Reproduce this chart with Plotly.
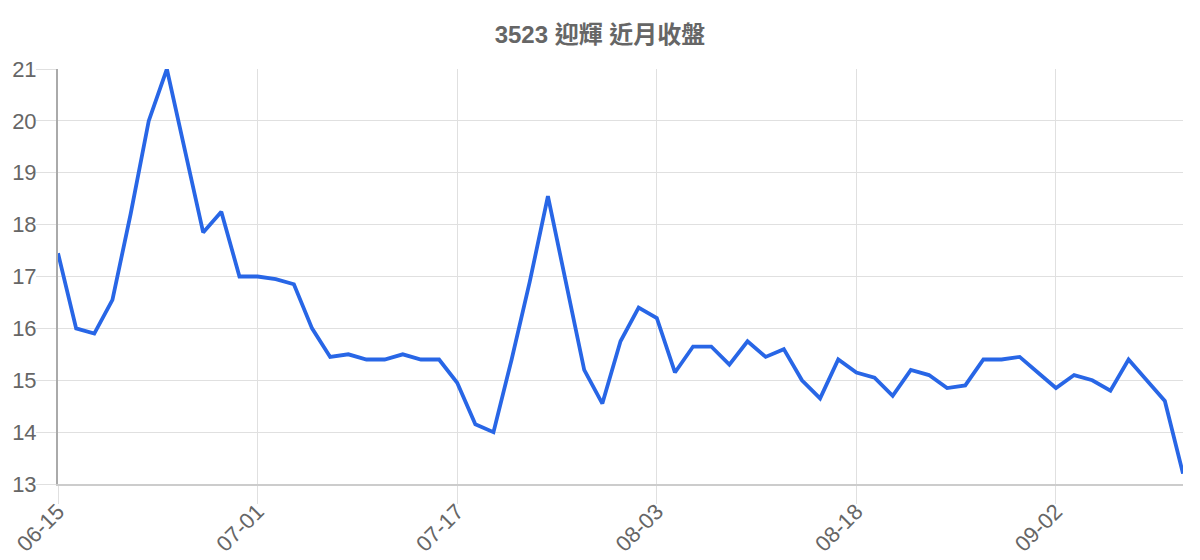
import plotly.graph_objects as go

dates = [
    "06-15", "06-16", "06-17", "06-18", "06-21", "06-22", "06-23", "06-24", "06-25", "06-28", "06-29", "07-01",
    "07-02", "07-05", "07-06", "07-07", "07-08", "07-09", "07-12", "07-13", "07-14", "07-15", "07-17",
    "07-18", "07-19", "07-20", "07-21", "07-24", "07-25", "07-26", "07-27", "07-28", "07-31", "08-03",
    "08-04", "08-05", "08-06", "08-07", "08-10", "08-11", "08-12", "08-13", "08-14", "08-17", "08-18",
    "08-19", "08-20", "08-21", "08-24", "08-25", "08-26", "08-27", "08-28", "08-31", "09-01", "09-02",
    "09-03", "09-04", "09-07", "09-08", "09-09", "09-10", "09-11",
]

closes = [
    17.45, 16.0, 15.9, 16.55, 18.2, 20.0, 21.0, 19.4, 17.85, 18.25, 17.0, 17.0,
    16.95, 16.85, 16.0, 15.45, 15.5, 15.4, 15.4, 15.5, 15.4, 15.4, 14.95,
    14.15, 14.0, 15.4, 16.9, 18.55, 16.85, 15.2, 14.55, 15.75, 16.4, 16.2,
    15.15, 15.65, 15.65, 15.3, 15.75, 15.45, 15.6, 15.0, 14.65, 15.4, 15.15,
    15.05, 14.7, 15.2, 15.1, 14.85, 14.9, 15.4, 15.4, 15.45, 15.15, 14.85,
    15.1, 15.0, 14.8, 15.4, 15.0, 14.6, 13.2,
]

tick_labels = ["06-15", "07-01", "07-17", "08-03", "08-18", "09-02"]
y_ticks = [13, 14, 15, 16, 17, 18, 19, 20, 21]

FONT = "Liberation Sans, Arial, Noto Sans CJK TC, sans-serif"

# the page shows the figure with an 8px body offset, so the figure is sized
# to fit the 1200x560 window and the margins are shifted accordingly
W, H = 1192, 552

fig = go.Figure()
fig.add_trace(go.Scatter(
    x=dates, y=closes, mode="lines",
    line=dict(color="#2866e6", width=3.8),
    hoverinfo="x+y", showlegend=False,
))

fig.update_layout(
    width=W, height=H,
    paper_bgcolor="white", plot_bgcolor="white",
    margin=dict(l=50, r=17, t=61, b=76),
    font=dict(family=FONT, color="#666666"),
    title=dict(
        text="<b>3523 迎輝 近月收盤</b>",
        x=592 / W, xanchor="center", xref="container",
        y=1 - 27 / H, yanchor="middle", yref="container",
        font=dict(size=24, color="#666666", family=FONT),
    ),
    xaxis=dict(
        type="category",
        range=[0, len(dates) - 1],
        tickmode="array", tickvals=tick_labels, ticktext=tick_labels,
        tickangle=-45,
        ticks="outside", ticklen=18, tickcolor="#e0e0e0", tickwidth=1,
        ticklabelstandoff=-14,
        showgrid=True, gridcolor="#e0e0e0", gridwidth=1,
        showline=True, linecolor="#cccccc", linewidth=2,
        tickfont=dict(size=22, color="#666666", family=FONT),
        zeroline=False, fixedrange=True, automargin=False,
    ),
    yaxis=dict(
        range=[13, 21],
        tickmode="array", tickvals=y_ticks,
        ticks="outside", ticklen=20, tickcolor="#e0e0e0", tickwidth=1,
        ticklabelstandoff=-5,
        showgrid=True, gridcolor="#e0e0e0", gridwidth=1,
        showline=True, linecolor="#aaaaaa", linewidth=2,
        tickfont=dict(size=22, color="#666666", family=FONT),
        zeroline=False, fixedrange=True, automargin=False,
    ),
)

fig.write_html("out.html")
